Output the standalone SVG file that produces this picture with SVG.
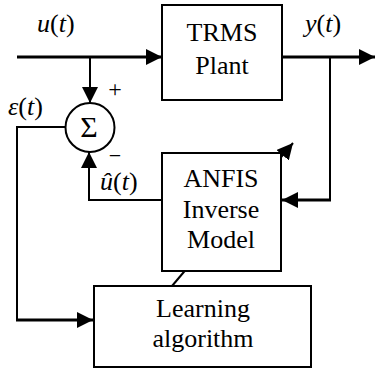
<svg xmlns="http://www.w3.org/2000/svg" width="375" height="370" viewBox="0 0 375 370">
<style>
.box{fill:#fff;stroke:#000;stroke-width:2}
.thin{fill:none;stroke:#000;stroke-width:2}
.thick{fill:none;stroke:#000;stroke-width:3}
text{font-family:'Liberation Serif','Times New Roman',serif;font-size:26px;fill:#000}
.t{text-anchor:middle}
.it{font-style:italic}
.ser{font-family:'DejaVu Serif',serif}
</style>
<defs>
<marker id="ah" markerUnits="userSpaceOnUse" markerWidth="16" markerHeight="16" viewBox="0 0 16 16" refX="16" refY="8" orient="auto">
<path d="M0,0 L16,8 L0,16 Z" fill="#000"/>
</marker>
</defs>
<g id="connectors">
<path class="thin" d="M172,286 L293,143" marker-end="url(#ah)"/>
<path class="thick" d="M17,57 L162,57" marker-end="url(#ah)"/>
<path class="thin" d="M90,57 L90,103" marker-end="url(#ah)"/>
<path class="thick" d="M282,57 L375,57" marker-end="url(#ah)"/>
<path class="thin" d="M330,57 L330,200"/>
<path class="thick" d="M331,200 L282,200" marker-end="url(#ah)"/>
<path class="thin" d="M162,200 L89,200 L89,152" marker-end="url(#ah)"/>
<path class="thin" d="M66,127 L17,127 L17,320"/>
<path class="thick" d="M16,320 L93,320" marker-end="url(#ah)"/>
</g>
<g id="sum">
<circle cx="90" cy="127.5" r="24.5" fill="#fff" stroke="#000" stroke-width="2"/>
<text class="t" x="89" y="137" style="font-size:30px">Σ</text>
<text class="t" x="115" y="97" style="font-size:24px">+</text>
<text class="t" x="115" y="163" style="font-size:22px">−</text>
</g>
<g id="trms">
<rect class="box" x="162" y="5" width="120" height="95"/>
<text class="t" x="222" y="41">TRMS</text>
<text class="t" x="222" y="74">Plant</text>
</g>
<g id="anfis">
<rect class="box" x="162" y="153" width="119" height="118"/>
<text class="t" x="221" y="187">ANFIS</text>
<text class="t" x="221" y="218">Inverse</text>
<text class="t" x="221" y="248">Model</text>
</g>
<g id="learning">
<rect class="box" x="94" y="286" width="217" height="81"/>
<text class="t" x="203" y="317">Learning</text>
<text class="t" x="203" y="347">algorithm</text>
</g>
<g id="labels">
<text class="it" x="37" y="32">u<tspan style="font-style:normal">(</tspan>t<tspan style="font-style:normal">)</tspan></text>
<text class="it" x="305" y="32">y<tspan style="font-style:normal">(</tspan>t<tspan style="font-style:normal">)</tspan></text>
<text class="it" x="8" y="115">ε<tspan style="font-style:normal">(</tspan>t<tspan style="font-style:normal">)</tspan></text>
<text class="it" x="100" y="190">û<tspan style="font-style:normal">(</tspan>t<tspan style="font-style:normal">)</tspan></text>
</g>
</svg>
